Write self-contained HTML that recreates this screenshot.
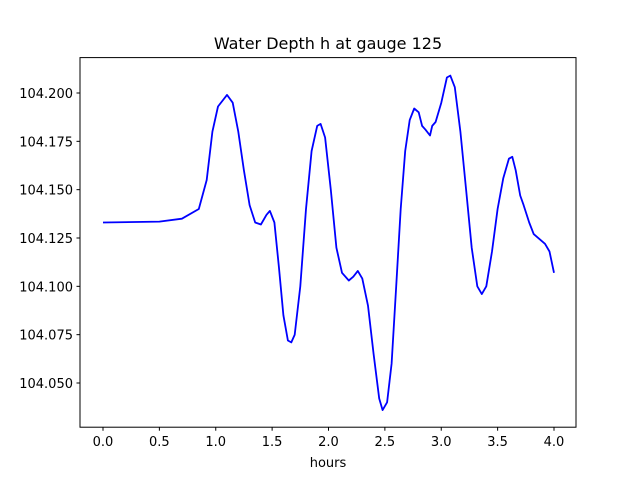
<!DOCTYPE html>
<html><head><meta charset="utf-8"><style>
body{margin:0;background:#fff;}
svg{display:block;font-family:"DejaVu Sans","Liberation Sans",sans-serif;}
</style></head><body>
<svg id="chart" width="640" height="480">
<rect width="640" height="480" fill="#fff"/>
<text x="328" y="49" text-anchor="middle" font-size="16">Water Depth h at gauge 125</text>
<text x="328" y="467" text-anchor="middle" font-size="13">hours</text>
<g id="ticks"></g>
<polyline id="line" fill="none" stroke="#0000ff" stroke-width="1.8" stroke-linejoin="round"/>
<rect x="80" y="57.6" width="496" height="369.6" fill="none" stroke="#000" stroke-width="1"/>
</svg>
<script>
const hours=[0,0.5,0.7,0.85,0.92,0.97,1.02,1.1,1.15,1.2,1.25,1.3,1.35,1.4,1.45,1.48,1.52,1.56,1.6,1.64,1.67,1.7,1.75,1.8,1.85,1.9,1.93,1.97,2.02,2.07,2.12,2.18,2.22,2.26,2.3,2.35,2.4,2.45,2.48,2.52,2.56,2.6,2.64,2.68,2.72,2.76,2.8,2.83,2.86,2.9,2.92,2.95,3.0,3.05,3.08,3.12,3.17,3.22,3.27,3.32,3.36,3.4,3.45,3.5,3.55,3.6,3.63,3.66,3.7,3.73,3.78,3.82,3.88,3.92,3.96,4.0];
const depth=[104.133,104.1335,104.135,104.140,104.155,104.180,104.193,104.199,104.195,104.180,104.160,104.142,104.133,104.132,104.137,104.139,104.133,104.110,104.085,104.072,104.071,104.075,104.100,104.140,104.170,104.183,104.184,104.177,104.150,104.120,104.107,104.103,104.105,104.108,104.104,104.090,104.065,104.042,104.036,104.040,104.060,104.100,104.140,104.170,104.186,104.192,104.190,104.183,104.181,104.178,104.183,104.185,104.195,104.208,104.209,104.203,104.180,104.150,104.120,104.100,104.096,104.100,104.118,104.140,104.156,104.166,104.167,104.160,104.147,104.142,104.133,104.127,104.124,104.122,104.118,104.107];
const xTicks=["0.0","0.5","1.0","1.5","2.0","2.5","3.0","3.5","4.0"];
const yTicks=["104.050","104.075","104.100","104.125","104.150","104.175","104.200"];
const xs=h=>103+h*112.75;
const ys=v=>93+(104.2-v)*1933.3;
const ns="http://www.w3.org/2000/svg";
const g=document.getElementById('ticks');
xTicks.forEach(t=>{
  const x=xs(parseFloat(t));
  const l=document.createElementNS(ns,'line');
  l.setAttribute('x1',x);l.setAttribute('x2',x);l.setAttribute('y1',427.2);l.setAttribute('y2',430.7);l.setAttribute('stroke','#000');
  
  
  g.appendChild(l);
  const tx=document.createElementNS(ns,'text');
  tx.setAttribute('x',x);tx.setAttribute('y',446);tx.setAttribute('text-anchor','middle');tx.setAttribute('font-size','13');
  tx.textContent=t;
  
  
  g.appendChild(tx);
});
yTicks.forEach(t=>{
  const y=ys(parseFloat(t));
  const l=document.createElementNS(ns,'line');
  l.setAttribute('x1',76.5);l.setAttribute('x2',80);l.setAttribute('y1',y);l.setAttribute('y2',y);l.setAttribute('stroke','#000');
  
  
  g.appendChild(l);
  const tx=document.createElementNS(ns,'text');
  tx.setAttribute('x',73);tx.setAttribute('y',y+5);tx.setAttribute('text-anchor','end');tx.setAttribute('font-size','13');
  tx.textContent=t;
  
  
  g.appendChild(tx);
});
document.getElementById('line').setAttribute('points',hours.map((h,i)=>xs(h).toFixed(1)+','+ys(depth[i]).toFixed(1)).join(' '));
</script>
</body></html>
